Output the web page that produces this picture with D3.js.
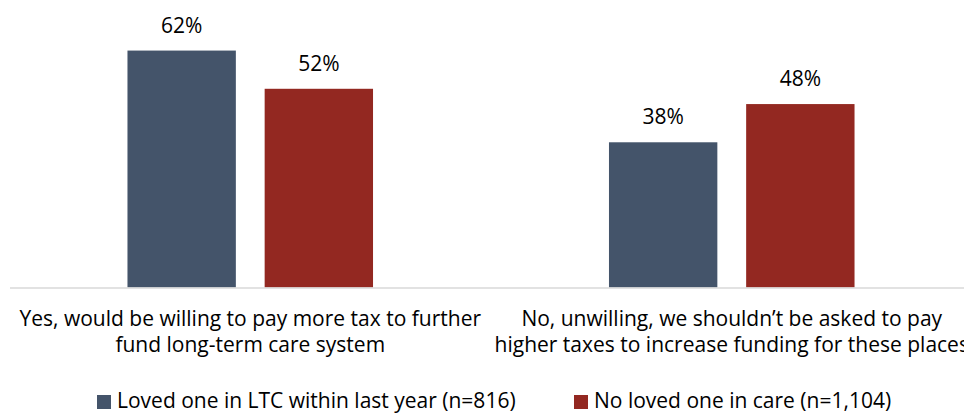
<!DOCTYPE html>
<html>
<head>
<meta charset="utf-8">
<script src="https://cdn.jsdelivr.net/npm/d3@7"></script>
<style>
  html, body { margin: 0; padding: 0; background: #fff; }
  svg { display: block; }
  text { font-family: "Open Sans", Lato, sans-serif; fill: #000; }
</style>
</head>
<body>
<svg id="chart" width="964" height="413"></svg>
<script>
// Survey responses by group
const categories = [
  ["Yes, would be willing to pay more tax to further", "fund long-term care system"],
  ["No, unwilling, we shouldn\u2019t be asked to pay", "higher taxes to increase funding for these places"]
];
const seriesNames = [
  "Loved one in LTC within last year (n=816)",
  "No loved one in care (n=1,104)"
];
const lovedOneValues = [62, 38];
const noLovedOneValues = [52, 48];
const colors = ["#44546a", "#932821"];

const svg = d3.select("#chart");
const fontSize = 21;

const catKeys = categories.map((c, i) => i);
const x0 = d3.scaleBand().domain(catKeys).range([9.5, 972.5]).paddingInner(0).paddingOuter(0);
const x1 = d3.scaleBand().domain([0, 1]).range([0, x0.bandwidth()])
  .paddingInner(0.21).paddingOuter(0.86);
const y = d3.scaleLinear().domain([0, 70]).range([287.5, 20]);

const seriesValues = [lovedOneValues, noLovedOneValues];
const rows = [];
catKeys.forEach(ci => seriesValues.forEach((vals, si) => rows.push({ ci, si, v: vals[ci] })));

// bars
svg.append("g").selectAll("rect").data(rows).join("rect")
  .attr("x", d => x0(d.ci) + x1(d.si))
  .attr("y", d => y(d.v))
  .attr("width", x1.bandwidth())
  .attr("height", d => y(0) - y(d.v))
  .attr("fill", d => colors[d.si]);

// value labels
svg.append("g").selectAll("text").data(rows).join("text")
  .attr("x", d => x0(d.ci) + x1(d.si) + x1.bandwidth() / 2)
  .attr("y", d => y(d.v) - 18)
  .attr("text-anchor", "middle")
  .attr("font-size", fontSize)
  .text(d => d.v + "%");

// baseline axis
const axis = d3.axisBottom(x0).tickSize(0).tickFormat("");
const axisG = svg.append("g").attr("transform", `translate(0,${y(0)})`).call(axis);
axisG.select(".domain").attr("stroke", "#d9d9d9").attr("stroke-width", 1.5);

// category labels
const catG = svg.append("g").selectAll("text").data(categories).join("text")
  .attr("text-anchor", "middle")
  .attr("font-size", fontSize)
  .attr("transform", (d, i) => `translate(${x0(i) + x0.bandwidth() / 2},0)`);
catG.selectAll("tspan").data(d => d).join("tspan")
  .attr("x", 0)
  .attr("y", (d, i) => 326 + i * 26)
  .text(d => d);

// legend
const legendX = [97, 574];
const leg = svg.append("g").selectAll("g").data(seriesNames).join("g")
  .attr("transform", (d, i) => `translate(${legendX[i]},0)`);
leg.append("rect").attr("x", 0).attr("y", 395).attr("width", 14).attr("height", 14)
  .attr("fill", (d, i) => colors[i]);
leg.append("text").attr("x", 20).attr("y", 408).attr("font-size", fontSize).text(d => d);
</script>
</body>
</html>
